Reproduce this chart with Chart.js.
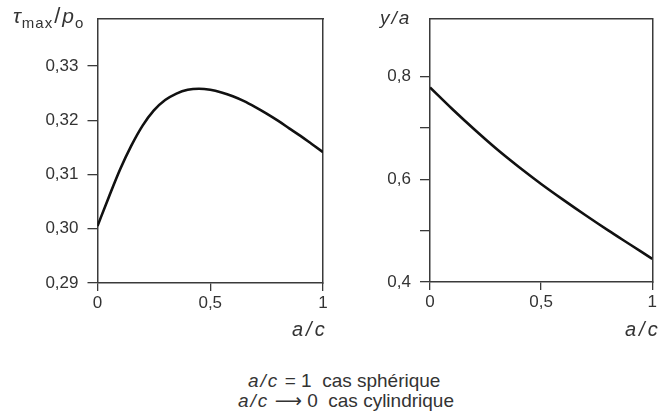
<!DOCTYPE html>
<html>
<head>
<meta charset="utf-8">
<script src="https://cdn.jsdelivr.net/npm/chart.js@4/dist/chart.umd.min.js"></script>
<style>
  html, body { margin: 0; padding: 0; background: #ffffff; }
  body { width: 659px; height: 411px; position: relative; overflow: hidden;
         font-family: "Liberation Sans", Arial, sans-serif; color: #333; }
  canvas { position: absolute; top: 0; }
  #c1 { left: 0; }
  #c2 { left: 330px; }
  .lbl { position: absolute; font-size: 19px; white-space: nowrap; line-height: 1; }
  .it { font-style: italic; }
  .sp { letter-spacing: 2px; }
  .axt { letter-spacing: 3px; font-size: 20px; }
  sub { font-size: 15px; vertical-align: -5px; line-height: 0; }
</style>
</head>
<body>
<canvas id="c1" width="330" height="345"></canvas>
<canvas id="c2" width="329" height="345"></canvas>

<div class="lbl" style="left:13px; top:5px; font-size:21px; letter-spacing:1px;"><span class="it">τ</span><sub>max</sub><span style="font-size:22px; padding:0 1px;">/</span><span class="it">p</span><sub>o</sub></div>
<div class="lbl it sp" style="left:380px; top:8px;">y/a</div>
<div class="lbl it axt" style="left:292px; top:319px;">a/c</div>
<div class="lbl it axt" style="left:625px; top:319px;">a/c</div>
<div class="lbl" style="left:248px; top:371px;"><span class="it sp">a/c</span> = 1&nbsp; cas sphérique</div>
<div class="lbl" style="left:238px; top:391px;"><span class="it sp">a/c</span> <span style="font-family:'DejaVu Sans'; font-size:19px;">⟶</span> 0&nbsp; cas cylindrique</div>

<script>
// ---- data ----
const aOverC   = [0, 0.05, 0.10, 0.15, 0.20, 0.25, 0.30, 0.35, 0.40, 0.45, 0.50, 0.55, 0.60, 0.65, 0.70, 0.75, 0.80, 0.85, 0.90, 0.95, 1.00];
const tauMaxP0 = [0.3005, 0.3058, 0.3109, 0.3153, 0.3190, 0.3218, 0.3237, 0.3249, 0.3256, 0.3258, 0.3256, 0.3251, 0.3244, 0.3235, 0.3224, 0.3212, 0.3199, 0.3185, 0.3171, 0.3156, 0.3141];

const aOverC2  = [0, 0.10, 0.20, 0.30, 0.40, 0.50, 0.60, 0.70, 0.80, 0.90, 1.00];
const yOverA   = [0.779, 0.737, 0.697, 0.659, 0.624, 0.591, 0.560, 0.530, 0.501, 0.473, 0.445];

const xTicks      = [0, 0.5, 1];
const xTickLabels = ['0', '0,5', '1'];
const tauTicks      = [0.29, 0.30, 0.31, 0.32, 0.33];
const tauTickLabels = ['0,29', '0,30', '0,31', '0,32', '0,33'];
const yaTicks       = [0.4, 0.5, 0.6, 0.7, 0.8];
const yaTickLabels  = ['0,4', '', '0,6', '', '0,8'];

const AX = '#3a3a3a';
const tickFont = { family: '"Liberation Sans", Arial, sans-serif', size: 17 };

function setTicks(values) {
  return function (scale) { scale.ticks = values.map(v => ({ value: v })); };
}

function makeChart(id, xs, ys, yMin, yMax, yTickVals, yTickLbls, yWidth, xHeight, padTop, padRight) {
  return new Chart(document.getElementById(id), {
    type: 'line',
    data: {
      datasets: [{
        data: xs.map((x, i) => ({ x: x, y: ys[i] })),
        borderColor: '#111',
        borderWidth: 2.6,
        pointRadius: 0,
        cubicInterpolationMode: 'monotone',
        fill: false
      }]
    },
    options: {
      responsive: false,
      animation: false,
      devicePixelRatio: 1,
      layout: { padding: { top: padTop, right: padRight, left: 0, bottom: 0 } },
      plugins: { legend: { display: false }, tooltip: { enabled: false } },
      scales: {
        x: {
          type: 'linear', position: 'bottom', min: 0, max: 1,
          afterBuildTicks: setTicks(xTicks),
          afterFit: s => { s.height = xHeight; },
          ticks: { callback: (v, i) => xTickLabels[i], font: tickFont, color: '#333', padding: 2, maxRotation: 0 },
          grid: { drawOnChartArea: false, drawTicks: true, tickLength: 8, color: AX, lineWidth: 1.3 },
          border: { display: true, color: AX, width: 1.5 }
        },
        y: {
          type: 'linear', position: 'left', min: yMin, max: yMax,
          afterBuildTicks: setTicks(yTickVals),
          afterFit: s => { s.width = yWidth; },
          ticks: { callback: (v, i) => yTickLbls[i], font: tickFont, color: '#333', padding: 9 },
          grid: { drawOnChartArea: false, drawTicks: true, tickLength: 10, color: AX, lineWidth: 1.3 },
          border: { display: true, color: AX, width: 1.5 }
        },
        x2: {
          type: 'linear', position: 'top', min: 0, max: 1,
          afterFit: s => { s.height = 0; },
          ticks: { display: false },
          grid: { display: false },
          border: { display: true, color: AX, width: 1.5 }
        },
        y2: {
          type: 'linear', position: 'right', min: yMin, max: yMax,
          afterFit: s => { s.width = 0; },
          ticks: { display: false },
          grid: { display: false },
          border: { display: true, color: AX, width: 1.5 }
        }
      }
    }
  });
}

makeChart('c1', aOverC, tauMaxP0, 0.29, 0.3386, tauTicks, tauTickLabels, 97.5, 62, 10, 7);
makeChart('c2', aOverC2, yOverA, 0.4, 0.912, yaTicks, yaTickLabels, 100, 63, 8, 4);
</script>
</body>
</html>
